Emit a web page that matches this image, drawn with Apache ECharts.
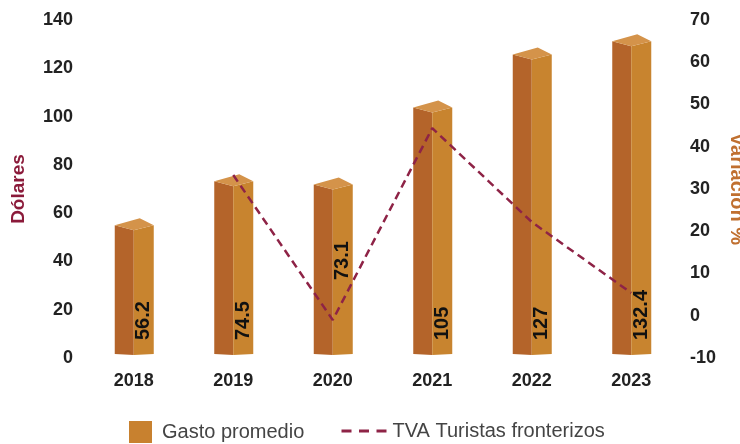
<!DOCTYPE html>
<html>
<head>
<meta charset="utf-8">
<script src="https://cdn.jsdelivr.net/npm/echarts@6/dist/echarts.min.js"></script>
<style>
  html, body { margin: 0; padding: 0; background: #fff; }
  #chart { width: 740px; height: 444px; }
</style>
</head>
<body>
<div id="chart"></div>
<script>
  var years = ['2018', '2019', '2020', '2021', '2022', '2023'];
  var gasto = [56.2, 74.5, 73.1, 105, 127, 132.4];
  var tva = [null, 33.3, -1, 44.4, 22.2, 5.4];

  var leftTicks = [0, 140, 20];
  var rightTicks = [-10, 70, 10];

  var font = 'Liberation Sans, Arial, sans-serif';
  var lineColor = '#8e2346';

  // bar drawn as a little prism: dark left face, light right face, top diamond
  function renderBar(params, api) {
    var i = api.value(0);
    var top = api.coord([i, api.value(1)]);
    var base = api.coord([i, 0]);
    var cx = top[0], y = top[1], y0 = base[1] - 4;
    var w = 19;
    // the 2020 label sits higher up in the original
    var lblUp = i === 2 ? 78 : 18;
    return {
      type: 'group',
      children: [
        {
          type: 'polygon',
          shape: { points: [[cx - w, y + 3], [cx, y + 8], [cx, y0 + 1], [cx - w, y0]] },
          style: { fill: '#b4642a' }
        },
        {
          type: 'polygon',
          shape: { points: [[cx, y + 8], [cx + w + 1, y + 3], [cx + w + 1, y0], [cx, y0 + 1]] },
          style: { fill: '#c8842f' }
        },
        {
          type: 'polygon',
          shape: { points: [[cx - w, y + 3], [cx + 6, y - 4], [cx + w + 1, y + 3], [cx, y + 8]] },
          style: { fill: '#d4934a' }
        },
        {
          type: 'text',
          x: cx + 10,
          y: base[1] - lblUp,
          rotation: Math.PI / 2,
          style: {
            text: String(api.value(1)),
            x: 0, y: 0,
            align: 'left',
            verticalAlign: 'middle',
            fill: '#111',
            font: 'bold 20px ' + font
          }
        }
      ]
    };
  }

  var chart = echarts.init(document.getElementById('chart'));
  chart.setOption({
    animation: false,
    textStyle: { fontFamily: font },
    grid: { left: 84, right: 59, top: 20, bottom: 86, outerBoundsMode: 'none' },
    legend: [
      {
        left: 124,
        top: 416,
        itemWidth: 23,
        itemHeight: 22,
        textStyle: { fontSize: 20, color: '#444', fontFamily: font, padding: [0, 0, 0, 5] },
        data: [{ name: 'Gasto promedio', icon: 'rect' }]
      },
      {
        left: 335,
        top: 416,
        itemWidth: 46,
        itemHeight: 22,
        textStyle: { fontSize: 20, color: '#444', fontFamily: font },
        data: [{
          name: 'TVA Turistas fronterizos',
          itemStyle: { opacity: 0 },
          lineStyle: { color: lineColor, width: 3, type: [10, 7.5] }
        }]
      }
    ],
    xAxis: {
      type: 'category',
      data: years,
      axisLine: { show: false },
      axisTick: { show: false },
      axisLabel: { color: '#222', fontWeight: 'bold', fontSize: 18, margin: 14 }
    },
    yAxis: [
      {
        type: 'value',
        min: leftTicks[0], max: leftTicks[1], interval: leftTicks[2],
        name: 'Dólares',
        nameLocation: 'middle',
        nameGap: 56,
        nameTextStyle: { color: '#8b1a3a', fontWeight: 'bold', fontSize: 19 },
        splitLine: { show: false },
        axisLine: { show: false },
        axisLabel: { color: '#222', fontWeight: 'bold', fontSize: 18, margin: 11 }
      },
      {
        type: 'value',
        min: rightTicks[0], max: rightTicks[1], interval: rightTicks[2],
        name: 'Variación %',
        nameLocation: 'middle',
        nameGap: 41,
        nameRotate: -90,
        nameTextStyle: { color: '#c07030', fontWeight: 'bold', fontSize: 20 },
        splitLine: { show: false },
        axisLine: { show: false },
        axisLabel: { color: '#222', fontWeight: 'bold', fontSize: 18, margin: 9 }
      }
    ],
    series: [
      {
        name: 'Gasto promedio',
        type: 'custom',
        renderItem: renderBar,
        itemStyle: { color: '#c8812f' },
        encode: { x: 0, y: 1 },
        data: gasto.map(function (v, i) { return [i, v]; }),
        z: 1
      },
      {
        name: 'TVA Turistas fronterizos',
        type: 'line',
        yAxisIndex: 1,
        data: tva,
        symbol: 'none',
        itemStyle: { color: lineColor },
        lineStyle: { color: lineColor, width: 2.5, type: [8, 5] },
        z: 5
      }
    ]
  });
</script>
</body>
</html>
